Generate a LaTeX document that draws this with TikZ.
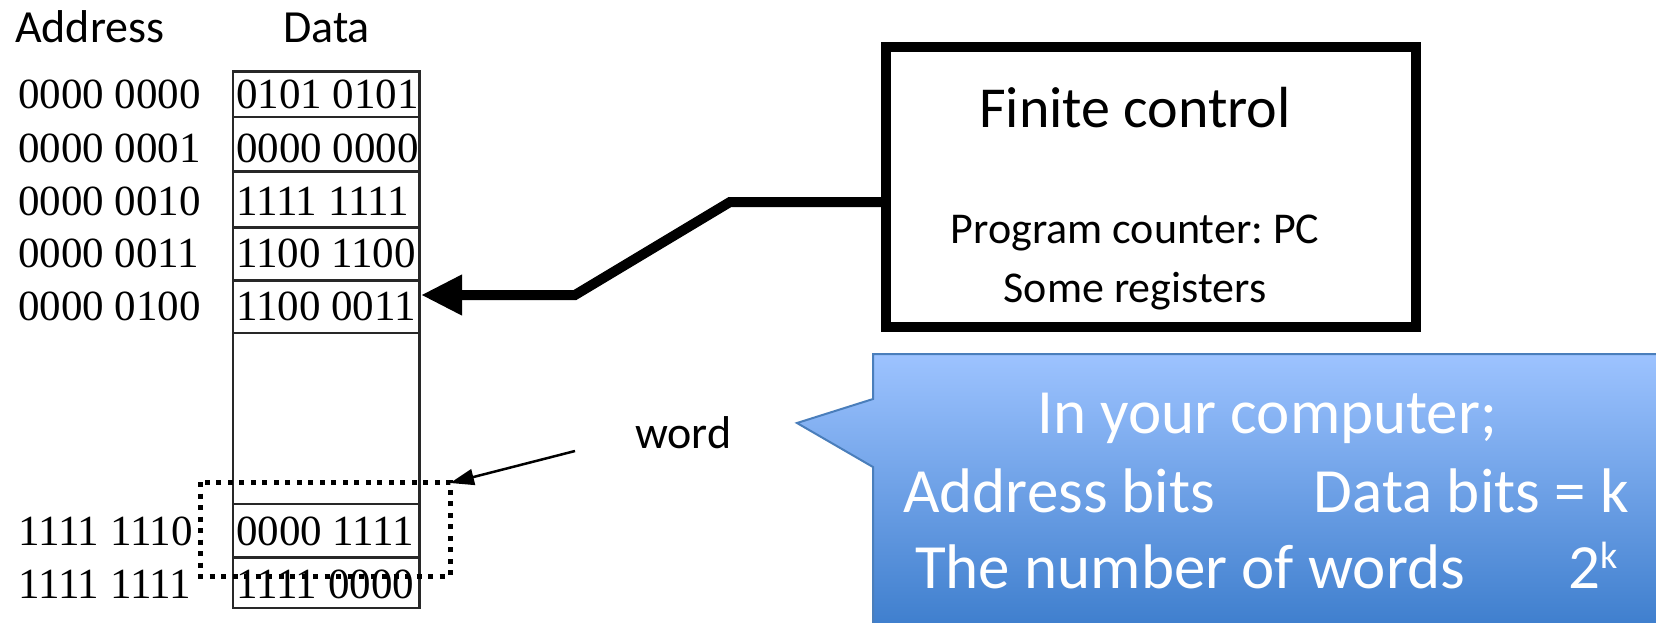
\documentclass[tikz,border=0pt]{standalone}
\usepackage{fontspec}
\setmainfont{Liberation Serif}
\newfontfamily\carl{Carlito}
\usetikzlibrary{arrows.meta}
\definecolor{cbtop}{RGB}{157,195,255}
\definecolor{cbmid}{RGB}{112,158,230}
\definecolor{cbbot}{RGB}{62,126,205}
\definecolor{cbline}{RGB}{74,126,187}
\definecolor{memgray}{RGB}{40,40,40}
\frenchspacing
\begin{document}
\begin{tikzpicture}[x=1pt,y=-1pt,
  hdr/.style={font=\carl\fontsize{46}{55}\selectfont, anchor=base west, inner sep=0pt},
  num/.style={font=\fontsize{43}{50}\selectfont, anchor=base west, inner sep=0pt},
  memline/.style={draw=memgray, line width=2.5pt},
  fctext/.style={font=\carl\fontsize{44}{52}\selectfont, anchor=base, inner sep=0pt},
  ctext/.style={font=\carl\fontsize{63}{75}\selectfont, text=white, anchor=base west, inner sep=0pt},
  fcbox/.style={draw, line width=10pt, minimum width=530pt, minimum height=280pt, inner sep=0pt},
  wordbox/.style={draw, line width=5pt, dash pattern=on 5pt off 6.5pt},
  bigarrow/.style={line width=10pt, -{Triangle[length=41pt,width=38pt]}},
  thinarrow/.style={line width=2.5pt, -{Triangle[length=24pt,width=16pt]}}
]
\useasboundingbox (0,0) rectangle (1656,622);
\clip (0,0) rectangle (1656,622);
\fill[white] (0,0) rectangle (1656,622);

% headers
\node[hdr] (haddr) at (15,42) {Address};
\node[hdr] (hdata) at (283,42) {Data};

% memory table
\draw[memline] (233,71.5) rectangle (419.5,608);
\foreach \y in {117,171.5,227.5,280.5,333,504,557.5}
  \draw[memline] (233,\y) -- (419.5,\y);

% addresses
\node[num] (a0) at (18,108) {0000 0000};
\node[num] (a1) at (18,162) {0000 0001};
\node[num] (a2) at (18,215) {0000 0010};
\node[num] (a3) at (18,267) {0000 0011};
\node[num] (a4) at (18,320) {0000 0100};
\node[num] (a5) at (18,545) {1111 1110};
\node[num] (a6) at (18,598) {1111 1111};

% data
\node[num] (d0) at (236,108) {0101 0101};
\node[num] (d1) at (236,162) {0000 0000};
\node[num] (d2) at (236,215) {1111 1111};
\node[num] (d3) at (236,267) {1100 1100};
\node[num] (d4) at (236,320) {1100 0011};
\node[num] (d5) at (236,545) {0000 1111};
\node[num] (d6) at (236,598) {1111 0000};

% word box
\draw[wordbox] (200,482) rectangle (450,576);
\coordinate (wcorner) at (450,483);
\node[hdr] (word) at (635,448) {word};
\coordinate (wstart) at (575,451);
\draw[thinarrow] (wstart) -- (wcorner);

% finite control
\node[fcbox] (fc) at (1151,187) {};
\node[fctext, font=\carl\fontsize{58}{66}\selectfont] (fct) at (1135,127) {Finite control};
\node[fctext] (pc) at (1135,243) {Program counter: PC};
\node[fctext] (regs) at (1135,302) {Some registers};

% thick arrow
\coordinate (pcout) at (886,202);
\coordinate (pctip) at (421,295);
\draw[bigarrow] (pcout) -- (730,202) -- (575,295) -- (pctip);

% callout
\path[draw=cbline, line width=2pt, top color=cbtop, middle color=cbmid, bottom color=cbbot]
  (873,354) -- (1662,354) -- (1662,628) -- (873,628) -- (873,467) -- (797,423) -- (873,399) -- cycle;
\node[ctext] (c1) at (1037,433) {In your computer;};
\node[ctext] (c2) at (903,512) {Address bits};
\node[ctext, anchor=base east] (c3) at (1629,512) {Data bits = k};
\node[ctext] (c4) at (915,588) {The number of words};
\node[ctext] (c5) at (1568,588) {2\raisebox{20pt}{\fontsize{38}{40}\selectfont k}};
\end{tikzpicture}
\end{document}
